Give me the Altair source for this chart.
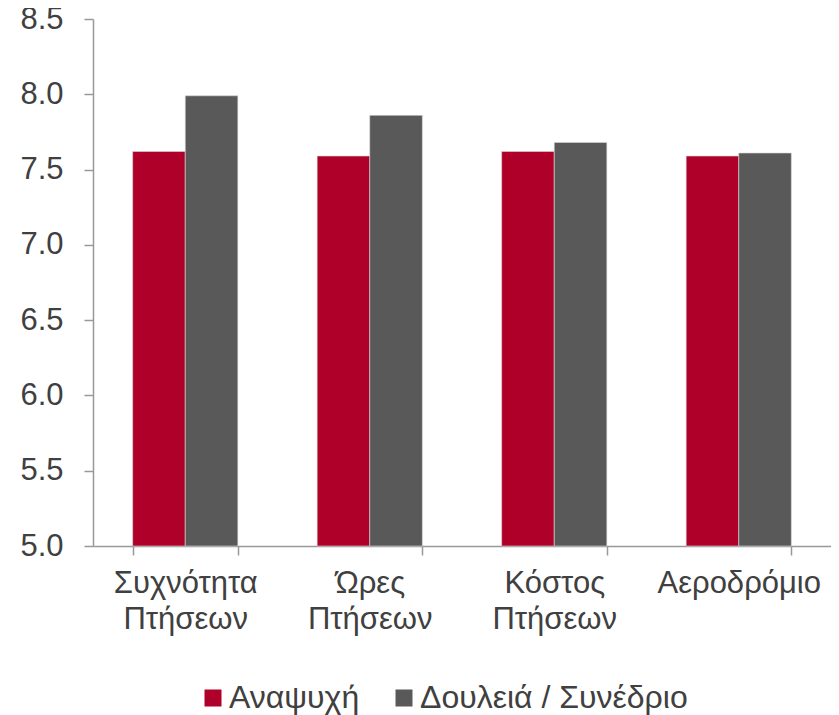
import altair as alt
import pandas as pd

categories = ["Συχνότητα Πτήσεων", "Ώρες Πτήσεων", "Κόστος Πτήσεων", "Αεροδρόμιο"]
series = ["Αναψυχή", "Δουλειά / Συνέδριο"]
leisure = [7.62, 7.59, 7.62, 7.59]
business = [7.99, 7.86, 7.68, 7.61]
colors = ["#AE0028", "#595959"]

rows = []
for i, c in enumerate(categories):
    rows.append({"cat": c, "series": series[0], "value": leisure[i]})
    rows.append({"cat": c, "series": series[1], "value": business[i]})
df = pd.DataFrame(rows)

FONT = "Liberation Sans"
TXT = "#404040"
AX = "#999999"

chart = alt.Chart(df).mark_bar(stroke="#d8d8d8", strokeWidth=0.6).encode(
    x=alt.X("cat:N", sort=categories,
            scale=alt.Scale(paddingInner=0.43, paddingOuter=0.215),
            axis=alt.Axis(title=None, labelAngle=0, tickBand="extent",
                          labelExpr="split(datum.label, ' ')",
                          labelLineHeight=36, labelPadding=13, tickSize=9,
                          labelFontSize=31, labelFont=FONT, labelColor=TXT,
                          domainColor=AX, tickColor=AX, domainWidth=1.5, tickWidth=1.5)),
    xOffset=alt.XOffset("series:N", sort=series, scale=alt.Scale(paddingInner=0, paddingOuter=0)),
    y=alt.Y("value:Q", scale=alt.Scale(domain=[5, 8.5], nice=False, zero=False),
            axis=alt.Axis(title=None, values=[5, 5.5, 6, 6.5, 7, 7.5, 8, 8.5], format=".1f",
                          grid=False, tickSize=9, labelPadding=21,
                          labelFontSize=31, labelFont=FONT, labelColor=TXT,
                          domainColor=AX, tickColor=AX, domainWidth=1.5, tickWidth=1.5)),
    y2=alt.datum(5),
    color=alt.Color("series:N", sort=series,
                    scale=alt.Scale(domain=series, range=colors),
                    legend=alt.Legend(title=None, orient="none", direction="horizontal",
                                      legendX=104, legendY=663,
                                      symbolType="square", symbolSize=289, symbolStrokeWidth=0,
                                      labelFontSize=32, labelFont=FONT, labelColor=TXT,
                                      labelOffset=0, columnPadding=28, labelLimit=400)),
).properties(
    width=738, height=527,
    autosize=alt.AutoSizeParams(type="none"),
    padding={"left": 85, "top": 11, "right": 0, "bottom": 170},
).configure_view(stroke=None)

chart.save("out.html", embed_options={"renderer": "svg", "actions": False})
